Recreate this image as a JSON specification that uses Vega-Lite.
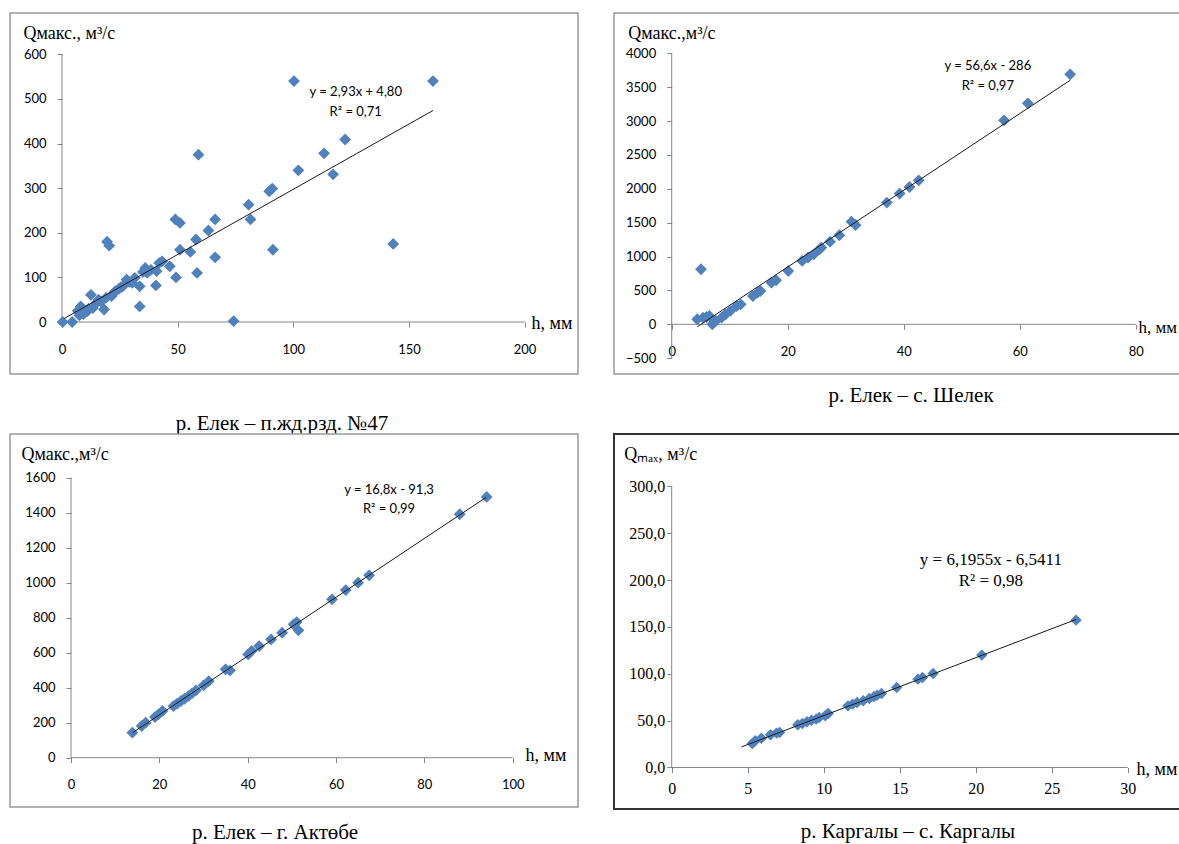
{
  "$schema": "https://vega.github.io/schema/vega-lite/v6.json",
  "background": "white",
  "padding": {"left": 9, "top": 12, "right": 0, "bottom": 0},
  "bounds": "flush",
  "columns": 2,
  "spacing": {"row": 60, "column": 36},
  "config": {
    "axis": {"domain": false, "grid": false, "tickColor": "#868686", "tickSize": 5, "labelFont": "Lato", "labelFontSize": 13, "labelColor": "#000", "format": "d", "titleFont": "Liberation Serif", "titleFontSize": 18, "titleFontWeight": "normal", "titleColor": "#000", "titleAngle": 0, "titleAlign": "left", "titleBaseline": "middle", "labelOverlap": false, "labelFlush": false},
    "axisX": {"labelBaseline": "middle", "labelPadding": 22},
    "axisY": {"labelPadding": 11},
    "title": {"font": "Liberation Serif", "fontSize": 21, "fontWeight": "normal", "color": "#000", "orient": "bottom", "baseline": "middle", "frame": "group", "anchor": "middle"},
    "text": {"font": "Lato", "fontSize": 13, "color": "#000", "align": "center", "baseline": "middle"}
  },
  "datasets": {
    "one": [{"k": 1}],
    "p1": [
      {"h":0.3,"Q":0},{"h":4.4,"Q":0},{"h":6.8,"Q":25},{"h":7.5,"Q":15},{"h":8.1,"Q":35},{"h":8.5,"Q":20},{"h":9.3,"Q":18},{"h":10.9,"Q":24},{"h":11.5,"Q":30},{"h":12.5,"Q":61},{"h":13.3,"Q":31},{"h":14.9,"Q":43},{"h":15.8,"Q":50},{"h":16.9,"Q":46},{"h":18.2,"Q":28},{"h":19,"Q":54},{"h":19.5,"Q":180},{"h":20.4,"Q":171},{"h":21.4,"Q":58},{"h":22,"Q":63},{"h":23,"Q":69},{"h":24.7,"Q":75},{"h":25.5,"Q":78},{"h":26.3,"Q":80},{"h":27.9,"Q":95},{"h":29,"Q":90},{"h":30.3,"Q":88},{"h":31.5,"Q":99},{"h":33.6,"Q":80},{"h":33.6,"Q":35},{"h":35,"Q":112},{"h":36,"Q":121},{"h":36.8,"Q":110},{"h":38.5,"Q":117},{"h":40.6,"Q":82},{"h":40.9,"Q":114},{"h":42,"Q":132},{"h":43.3,"Q":136},{"h":46.6,"Q":125},{"h":49,"Q":230},{"h":49.3,"Q":100},{"h":51,"Q":222},{"h":51,"Q":162},{"h":55.5,"Q":157},{"h":57.9,"Q":185},{"h":58.4,"Q":110},{"h":59,"Q":375},{"h":63.3,"Q":205},{"h":66.2,"Q":230},{"h":66.2,"Q":145},{"h":74.2,"Q":2},{"h":80.7,"Q":263},{"h":81.5,"Q":230},{"h":89.6,"Q":293},{"h":90.9,"Q":299},{"h":91.2,"Q":162},{"h":100.3,"Q":540},{"h":102.2,"Q":340},{"h":113.3,"Q":378},{"h":117.2,"Q":331},{"h":122.4,"Q":409},{"h":143.2,"Q":175},{"h":160.4,"Q":540}
    ],
    "p1t": [{"h":1,"Q":8},{"h":160.4,"Q":474}],
    "p2": [
      {"h":4.4,"Q":74},{"h":5.05,"Q":812},{"h":5.4,"Q":98},{"h":6.0,"Q":108},{"h":6.5,"Q":123},{"h":7.0,"Q":0},{"h":7.6,"Q":49},{"h":8.6,"Q":98},{"h":9.3,"Q":148},{"h":10.1,"Q":197},{"h":11.2,"Q":270},{"h":11.9,"Q":295},{"h":14,"Q":418},{"h":14.8,"Q":467},{"h":15.3,"Q":492},{"h":17.2,"Q":615},{"h":18,"Q":650},{"h":20.1,"Q":787},{"h":22.5,"Q":935},{"h":23.5,"Q":984},{"h":24.5,"Q":1033},{"h":25.5,"Q":1107},{"h":25.8,"Q":1132},{"h":27.3,"Q":1220},{"h":28.9,"Q":1314},{"h":31,"Q":1515},{"h":31.7,"Q":1466},{"h":37.1,"Q":1796},{"h":39.3,"Q":1929},{"h":41,"Q":2027},{"h":42.6,"Q":2125},{"h":57.3,"Q":3011},{"h":61.4,"Q":3262},{"h":68.7,"Q":3690}
    ],
    "p2t": [{"h":4.4,"Q":-37},{"h":68.7,"Q":3602}],
    "p3": [
      {"h":13.9,"Q":143},{"h":16,"Q":181},{"h":16.9,"Q":200},{"h":19,"Q":232},{"h":19.8,"Q":248},{"h":20.7,"Q":267},{"h":23.2,"Q":295},{"h":24,"Q":309},{"h":24.9,"Q":324},{"h":25.7,"Q":337},{"h":26.6,"Q":352},{"h":27.4,"Q":368},{"h":28.3,"Q":385},{"h":30,"Q":413},{"h":31.2,"Q":438},{"h":35,"Q":505},{"h":36,"Q":499},{"h":40.1,"Q":590},{"h":40.9,"Q":610},{"h":42.6,"Q":638},{"h":45.3,"Q":676},{"h":47.8,"Q":714},{"h":50.4,"Q":762},{"h":51.1,"Q":775},{"h":51.5,"Q":728},{"h":59.1,"Q":905},{"h":62.2,"Q":958},{"h":65,"Q":1000},{"h":67.5,"Q":1042},{"h":88,"Q":1391},{"h":94.1,"Q":1490}
    ],
    "p3t": [{"h":14,"Q":144},{"h":94,"Q":1488}],
    "p4": [
      {"h":5.3,"Q":25.6},{"h":5.5,"Q":28.5},{"h":5.9,"Q":31.3},{"h":6.5,"Q":34.9},{"h":6.9,"Q":36.7},{"h":7.1,"Q":37.4},{"h":8.3,"Q":45.6},{"h":8.6,"Q":47},{"h":8.9,"Q":48.8},{"h":9.2,"Q":50.5},{"h":9.5,"Q":51.6},{"h":9.7,"Q":53.4},{"h":10.1,"Q":55.2},{"h":10.3,"Q":57.7},{"h":11.6,"Q":65.8},{"h":11.9,"Q":67.6},{"h":12.2,"Q":69.4},{"h":12.6,"Q":71.2},{"h":13,"Q":73.7},{"h":13.3,"Q":75.5},{"h":13.5,"Q":77.2},{"h":13.8,"Q":79},{"h":14.8,"Q":85.4},{"h":16.2,"Q":94.3},{"h":16.5,"Q":96.1},{"h":17.2,"Q":100.4},{"h":20.4,"Q":120},{"h":26.6,"Q":157.3}
    ],
    "p4t": [{"h":4.6,"Q":22},{"h":26.6,"Q":158}]
  },
  "concat": [
    {
      "width": 568, "height": 361,
      "view": {"stroke": "#999", "strokeWidth": 1.5, "fill": "white"},
      "title": {"text": "р. Елек – п.жд.рзд. №47", "offset": 39, "dx": -12},
      "layer": [
        {"data": {"name": "one"}, "mark": {"type": "rule", "color": "#868686", "strokeWidth": 1},
         "encoding": {
          "x": {"datum": 0, "type": "quantitative", "scale": {"domain": [-22.48, 223.09], "nice": false, "zero": false},
                "axis": {"values": [0, 50, 100, 150, 200], "offset": -52, "title": "h, мм", "titleX": 521, "titleY": 1}},
          "x2": {"datum": 200},
          "y": {"datum": 0, "type": "quantitative", "scale": {"domain": [-116.5, 692.5], "nice": false, "zero": false},
                "axis": {"values": [0, 100, 200, 300, 400, 500, 600], "offset": -52, "title": "Qмакс., м³/с", "titleX": -39, "titleY": 20}}}},
        {"data": {"name": "one"}, "mark": {"type": "rule", "color": "#868686", "strokeWidth": 1}, "encoding": {"x": {"datum": 0}, "y": {"datum": 0}, "y2": {"datum": 600}}},
        {"data": {"name": "p1"}, "mark": {"type": "point", "shape": "diamond", "filled": true, "size": 140, "color": "#4F81BD", "opacity": 1},
         "encoding": {"x": {"field": "h", "type": "quantitative"}, "y": {"field": "Q", "type": "quantitative"}}},
        {"data": {"name": "p1t"}, "mark": {"type": "line", "color": "#1a1a1a", "strokeWidth": 1}, "encoding": {"x": {"field": "h", "type": "quantitative"}, "y": {"field": "Q", "type": "quantitative"}}},
        {"data": {"name": "one"}, "mark": {"type": "text", "text": "y = 2,93x + 4,80"}, "encoding": {"x": {"datum": 127}, "y": {"datum": 516}}},
        {"data": {"name": "one"}, "mark": {"type": "text", "text": "R² = 0,71"}, "encoding": {"x": {"datum": 127}, "y": {"datum": 471}}}
      ]
    },
    {
      "width": 566, "height": 361,
      "view": {"stroke": "#999", "strokeWidth": 1.5, "fill": "white"},
      "title": {"text": "р. Елек – с. Шелек", "offset": 11, "dx": 14},
      "layer": [
        {"data": {"name": "one"}, "mark": {"type": "rule", "color": "#868686", "strokeWidth": 1},
         "encoding": {
          "x": {"datum": 0, "type": "quantitative", "scale": {"domain": [-9.95, 87.64], "nice": false, "zero": false},
                "axis": {"values": [0, 20, 40, 60, 80], "offset": -49.7, "title": "h, мм", "titleX": 524, "titleY": 3, "titleFontSize": 17}},
          "x2": {"datum": 80},
          "y": {"datum": 0, "type": "quantitative", "scale": {"domain": [-733.6, 4594.8], "nice": false, "zero": false},
                "axis": {"values": [-500, 0, 500, 1000, 1500, 2000, 2500, 3000, 3500, 4000], "offset": -57.7, "title": "Qмакс.,м³/с", "titleX": -44, "titleY": 20}}}},
        {"data": {"name": "one"}, "mark": {"type": "rule", "color": "#868686", "strokeWidth": 1}, "encoding": {"x": {"datum": 0}, "y": {"datum": -500}, "y2": {"datum": 4000}}},
        {"data": {"name": "p2"}, "mark": {"type": "point", "shape": "diamond", "filled": true, "size": 140, "color": "#4F81BD", "opacity": 1},
         "encoding": {"x": {"field": "h", "type": "quantitative"}, "y": {"field": "Q", "type": "quantitative"}}},
        {"data": {"name": "p2t"}, "mark": {"type": "line", "color": "#1a1a1a", "strokeWidth": 1}, "encoding": {"x": {"field": "h", "type": "quantitative"}, "y": {"field": "Q", "type": "quantitative"}}},
        {"data": {"name": "one"}, "mark": {"type": "text", "text": "y = 56,6x - 286"}, "encoding": {"x": {"datum": 54.5}, "y": {"datum": 3812}}},
        {"data": {"name": "one"}, "mark": {"type": "text", "text": "R² = 0,97"}, "encoding": {"x": {"datum": 54.5}, "y": {"datum": 3517}}}
      ]
    },
    {
      "width": 568, "height": 373,
      "view": {"stroke": "#999", "strokeWidth": 1.5, "fill": "white"},
      "title": {"text": "р. Елек – г. Актөбе", "offset": 15, "dx": -19},
      "layer": [
        {"data": {"name": "one"}, "mark": {"type": "rule", "color": "#868686", "strokeWidth": 1},
         "encoding": {
          "x": {"datum": 0, "type": "quantitative", "scale": {"domain": [-13.81, 114.78], "nice": false, "zero": false},
                "axis": {"values": [0, 20, 40, 60, 80, 100], "offset": -49.3, "title": "h, мм", "titleX": 515, "titleY": -2}},
          "x2": {"datum": 100},
          "y": {"datum": 0, "type": "quantitative", "scale": {"domain": [-281.7, 1849.7], "nice": false, "zero": false},
                "axis": {"values": [0, 200, 400, 600, 800, 1000, 1200, 1400, 1600], "offset": -61, "title": "Qмакс.,м³/с", "titleX": -50, "titleY": 20}}}},
        {"data": {"name": "one"}, "mark": {"type": "rule", "color": "#868686", "strokeWidth": 1}, "encoding": {"x": {"datum": 0}, "y": {"datum": 0}, "y2": {"datum": 1600}}},
        {"data": {"name": "p3"}, "mark": {"type": "point", "shape": "diamond", "filled": true, "size": 140, "color": "#4F81BD", "opacity": 1},
         "encoding": {"x": {"field": "h", "type": "quantitative"}, "y": {"field": "Q", "type": "quantitative"}}},
        {"data": {"name": "p3t"}, "mark": {"type": "line", "color": "#1a1a1a", "strokeWidth": 1}, "encoding": {"x": {"field": "h", "type": "quantitative"}, "y": {"field": "Q", "type": "quantitative"}}},
        {"data": {"name": "one"}, "mark": {"type": "text", "text": "y = 16,8x - 91,3"}, "encoding": {"x": {"datum": 72}, "y": {"datum": 1530}}},
        {"data": {"name": "one"}, "mark": {"type": "text", "text": "R² = 0,99"}, "encoding": {"x": {"datum": 72}, "y": {"datum": 1421}}}
      ]
    },
    {
      "width": 566, "height": 375,
      "view": {"stroke": "#333", "strokeWidth": 2, "fill": "white"},
      "title": {"text": "р. Каргалы – с. Каргалы", "offset": 12, "dx": 11},
      "layer": [
        {"data": {"name": "one"}, "mark": {"type": "rule", "color": "#868686", "strokeWidth": 1},
         "encoding": {
          "x": {"datum": 0, "type": "quantitative", "scale": {"domain": [-3.796, 33.44], "nice": false, "zero": false},
                "axis": {"values": [0, 5, 10, 15, 20, 25, 30], "offset": -41.5, "labelFont": "Liberation Serif", "labelFontSize": 16, "labelPadding": 16, "title": "h, мм", "titleX": 522, "titleY": 2}},
          "x2": {"datum": 30},
          "y": {"datum": 0, "type": "quantitative", "scale": {"domain": [-44.3, 356.0], "nice": false, "zero": false},
                "axis": {"values": [0, 50, 100, 150, 200, 250, 300], "offset": -57.7, "labelFont": "Liberation Serif", "labelFontSize": 16, "labelPadding": 2, "labelExpr": "replace(format(datum.value, '.1f'), '.', ',')", "title": "Qₘₐₓ, м³/с", "titleX": -48, "titleY": 20}}}},
        {"data": {"name": "one"}, "mark": {"type": "rule", "color": "#868686", "strokeWidth": 1}, "encoding": {"x": {"datum": 0}, "y": {"datum": 0}, "y2": {"datum": 300}}},
        {"data": {"name": "p4"}, "mark": {"type": "point", "shape": "diamond", "filled": true, "size": 130, "color": "#4F81BD", "opacity": 1},
         "encoding": {"x": {"field": "h", "type": "quantitative"}, "y": {"field": "Q", "type": "quantitative"}}},
        {"data": {"name": "p4t"}, "mark": {"type": "line", "color": "#1a1a1a", "strokeWidth": 1}, "encoding": {"x": {"field": "h", "type": "quantitative"}, "y": {"field": "Q", "type": "quantitative"}}},
        {"data": {"name": "one"}, "mark": {"type": "text", "text": "y = 6,1955x - 6,5411", "font": "Liberation Serif", "fontSize": 17}, "encoding": {"x": {"datum": 21.0}, "y": {"datum": 221.5}}},
        {"data": {"name": "one"}, "mark": {"type": "text", "text": "R² = 0,98", "font": "Liberation Serif", "fontSize": 17}, "encoding": {"x": {"datum": 21.0}, "y": {"datum": 199}}}
      ]
    }
  ]
}
